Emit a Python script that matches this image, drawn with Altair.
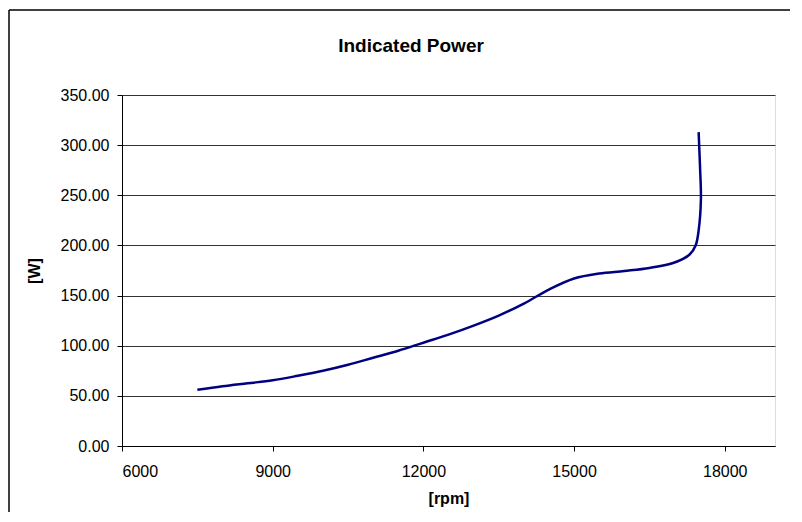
import altair as alt
import pandas as pd

rpm = [7500, 8000, 8500, 9000, 9500, 10000, 10500, 11000, 11500, 12000,
       12500, 13000, 13500, 14000, 14500, 15000, 15500, 16000, 16500, 17000,
       17300, 17420, 17480, 17525, 17510, 17490, 17480]
power = [56, 59.5, 62.5, 65.5, 70, 75, 81, 88, 95, 103,
         111, 120, 130, 142, 156, 167, 172, 174.5, 177.5, 183,
         191, 200, 215, 246, 275, 300, 313]
x_ticks = [6000, 9000, 12000, 15000, 18000]
y_ticks = [0, 50, 100, 150, 200, 250, 300, 350]
chart_title = ["Indicated Power"]

df = pd.DataFrame({"rpm": rpm, "power": power, "idx": list(range(len(rpm)))})
FONT = "Liberation Sans"

line = alt.Chart(df).mark_line(
    color="#000080", strokeWidth=2.5, interpolate="catmull-rom"
).encode(
    x=alt.X("rpm:Q",
            scale=alt.Scale(domain=[6000, 19000], nice=False, zero=False),
            axis=alt.Axis(values=x_ticks, format="d", title="[rpm]", grid=False,
                          domainColor="black", tickColor="black", tickSize=5,
                          labelPadding=12, labelFontSize=16, labelColor="black",
                          titleFontSize=16, titleFontWeight="bold", titleColor="black",
                          titleY=52, titleBaseline="middle")),
    y=alt.Y("power:Q",
            scale=alt.Scale(domain=[0, 350], nice=False),
            axis=alt.Axis(values=y_ticks, format=".2f", title="[W]", grid=True,
                          gridColor="#333333", gridOpacity=1,
                          domainColor="black", tickColor="black", tickSize=5,
                          labelPadding=8, labelFontSize=16, labelColor="black",
                          titleFontSize=16, titleFontWeight="bold", titleColor="black",
                          titleX=-88, titleBaseline="middle")),
    order="idx:Q",
)

frame_df = pd.DataFrame({"k": [0]})
frame_left = alt.Chart(frame_df).mark_rule(color="black", strokeWidth=1.5).encode(
    x=alt.value(-113), y=alt.value(-85), y2=alt.value(440))
frame_top = alt.Chart(frame_df).mark_rule(color="black", strokeWidth=1.5).encode(
    x=alt.value(-113), x2=alt.value(700), y=alt.value(-85))

title = alt.Chart(pd.DataFrame({"t": chart_title})).mark_text(
    font=FONT, fontSize=19, fontWeight="bold", color="black",
    align="center", baseline="middle"
).encode(x=alt.value(289), y=alt.value(-49), text="t:N")

chart = alt.layer(frame_left, frame_top, title, line).properties(
    width=653, height=351,
    autosize=alt.AutoSizeParams(type="none"),
    padding={"left": 114, "top": 87, "right": 15, "bottom": 66},
).configure_view(stroke="#a0a0a0", strokeWidth=1.5).configure_axis(
    labelFont=FONT, titleFont=FONT, domainWidth=1.5
).configure(background="white")

chart.save("out.html", embed_options={"renderer": "svg", "actions": False})
